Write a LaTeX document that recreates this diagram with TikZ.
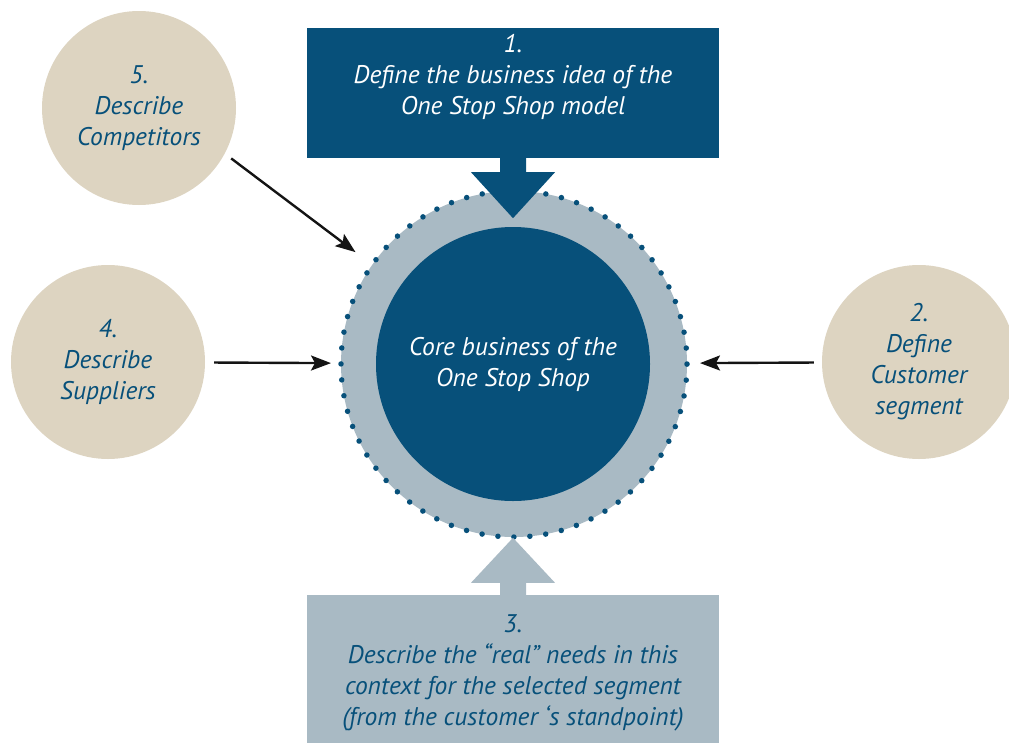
\documentclass[tikz,border=0pt]{standalone}
\usepackage{fontspec}
\setmainfont{PT Sans}
\usetikzlibrary{arrows.meta,positioning}

\definecolor{oxblue}{HTML}{07507A}
\definecolor{ringgray}{HTML}{A9BAC4}
\definecolor{sand}{HTML}{DDD4C1}

\tikzset{
  txt/.style={font=\fontsize{25.5}{31}\selectfont\itshape, align=center},
  stepcircle/.style={circle, fill=sand, minimum size=194pt, inner sep=0pt, text=oxblue, txt},
  bigbox/.style={rectangle, minimum width=412pt, inner sep=0pt},
  link/.style={-{Stealth[length=20pt,width=15pt,inset=4pt]}, line width=2.4pt, draw=black!92},
}

\begin{document}
\begin{tikzpicture}[x=1pt,y=-1pt]

\useasboundingbox (0,0) rectangle (1009,742);

% centre
\node[circle,fill=ringgray,minimum size=346pt,inner sep=0pt,outer sep=0pt] (ring) at (514,364) {};
\draw[oxblue,line width=5.5pt,line cap=round,dash pattern=on 0pt off 15.985pt] (ring.center) circle[radius=173pt];
\node[circle,fill=oxblue,minimum size=274pt,inner sep=0pt,text=white,txt] (core) at (513,364) {Core business of the\\One Stop Shop};

% boxes
\node[bigbox,fill=oxblue,minimum height=130pt] (idea) at (513,93) {};
\node[txt,text=white,below=3pt of idea.north] (ideatext) {1.\\Define the business idea of the\\One Stop Shop model};
\node[bigbox,fill=ringgray,minimum height=150pt] (needs) at (513,670) {};
\node[txt,text=oxblue] (needstext) at (513,673) {3.\\Describe the “real” needs in this\\context for the selected segment\\(from the customer ‘s standpoint)};

% block arrows
\fill[oxblue] ([xshift=-13pt]idea.south) -- ++(0,14) -- ++(-29,0) -- ++(42,46) -- ++(42,-46) -- ++(-29,0) -- ++(0,-14) -- cycle;
\fill[ringgray] ([xshift=-13pt]needs.north) -- ++(0,-12) -- ++(-29,0) -- ++(42,-45) -- ++(42,45) -- ++(-29,0) -- ++(0,12) -- cycle;

% steps
\node[stepcircle] (comp) at (139,108) {5.\\Describe\\Competitors};
\node[stepcircle] (supp) at (108,362) {4.\\Describe\\Suppliers};
\node[stepcircle] (cust) at (919,362) {2.\\Define\\Customer\\segment};

\path (comp.-28) edge[link,shorten <=8pt,shorten >=21pt] (ring.145)
      (supp) edge[link,shorten <=9pt,shorten >=10pt] (ring)
      (cust) edge[link,shorten <=8pt,shorten >=13pt] (ring);

\end{tikzpicture}
\end{document}
